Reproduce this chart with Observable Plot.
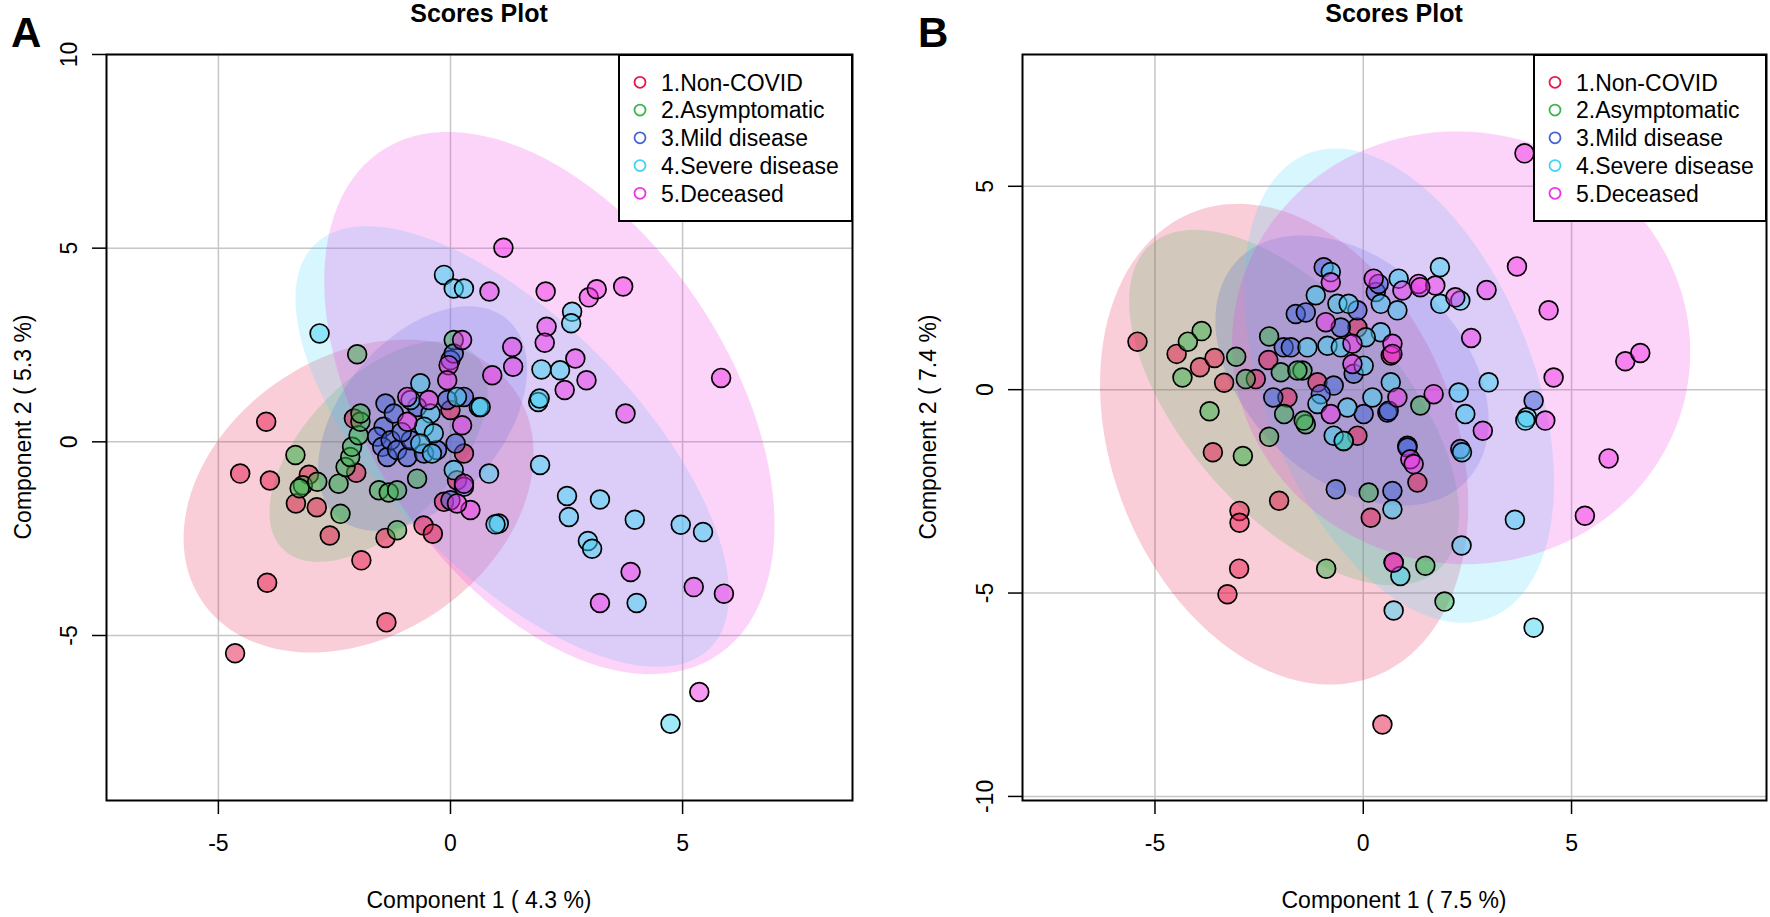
<!DOCTYPE html>
<html><head><meta charset="utf-8">
<script src="https://cdn.jsdelivr.net/npm/d3@7"></script>
<script src="https://cdn.jsdelivr.net/npm/@observablehq/plot@0.6"></script>
<style>
body{margin:0;background:#fff;font-family:"Liberation Sans",Arial,sans-serif;}
#wrap{position:relative;width:1770px;height:917px;overflow:hidden;background:#fff;}
.panel{position:absolute;top:0;}
#overlay{position:absolute;left:0;top:0;}
</style></head>
<body><div id="wrap"><div id="pa" class="panel" style="left:0"></div><div id="pb" class="panel" style="left:900px"></div></div>
<script>
// ---------- data ----------
const groups = ["1.Non-COVID","2.Asymptomatic","3.Mild disease","4.Severe disease","5.Deceased"];
const groupColors = ["#e6194B","#3cb44b","#4363d8","#42d4f4","#f032e6"];
const xTicks = [-5, 0, 5];
const yTicksA = [-5, 0, 5, 10];
const yTicksB = [-10, -5, 0, 5];
const xLabelA = "Component 1 ( 4.3 %)", yLabelA = "Component 2 ( 5.3 %)";
const xLabelB = "Component 1 ( 7.5 %)", yLabelB = "Component 2 ( 7.4 %)";
const plotTitle = "Scores Plot";

// Panel A scores
const aNonCovid = [[-4.64,-5.46],[-4.53,-0.82],[-3.97,0.52],[-3.89,-1.0],[-3.95,-3.64],[-3.33,-1.59],[-2.88,-1.69],[-3.05,-0.85],[-2.60,-2.42],[-2.03,-0.80],[-2.08,0.60],[-1.92,-3.06],[-1.40,-2.48],[-1.38,-4.66],[-0.58,-2.16],[-0.38,-2.37],[-0.14,-1.55],[0.0,0.82],[0.29,-0.30],[0.14,-0.99]];
const aAsymptomatic = [[-3.34,-0.34],[-3.18,-1.12],[-3.25,-1.2],[-2.87,-1.03],[-2.37,-1.86],[-2.41,-1.08],[-2.26,-0.65],[-2.16,-0.39],[-2.12,-0.13],[-1.98,0.17],[-1.94,0.52],[-1.94,0.73],[-2.01,2.26],[-1.54,-1.25],[-1.33,-1.31],[-1.15,-1.25],[-1.15,-2.28],[-0.72,-0.95],[0.07,2.63]];
const aMild = [[-1.40,0.99],[-1.44,0.39],[-1.58,0.13],[-1.47,-0.13],[-1.36,-0.39],[-1.29,0.04],[-1.15,-0.21],[-0.93,-0.39],[-0.57,-0.30],[0.0,2.11],[0.07,2.28],[0.11,-0.04],[0.29,1.16],[-0.72,0.90],[-0.07,1.08],[-1.22,0.73],[-0.86,0.04],[-0.29,-0.21],[0.29,-1.16],[0.0,-1.51],[-1.05,0.25]];
const aSevere = [[-0.14,4.31],[0.07,3.96],[0.29,3.96],[-2.82,2.80],[2.62,3.36],[2.60,3.06],[1.96,1.87],[2.36,1.85],[1.89,1.03],[1.92,1.12],[0.61,0.90],[1.93,-0.60],[0.83,-0.82],[2.51,-1.40],[2.55,-1.94],[3.22,-1.49],[3.97,-2.01],[4.96,-2.14],[5.44,-2.33],[2.96,-2.56],[3.05,-2.76],[1.04,-2.11],[0.97,-2.13],[4.01,-4.16],[4.74,-7.28],[-0.65,1.51],[-0.43,0.73],[-0.57,0.39],[-0.36,0.22],[-0.65,-0.04],[-0.40,-0.30],[0.14,1.16],[0.65,0.90],[0.07,-0.73],[-0.86,1.08]];
const aDeceased = [[1.14,5.01],[0.84,3.88],[2.05,3.88],[2.98,3.73],[3.15,3.94],[3.72,4.01],[2.07,2.97],[2.03,2.56],[1.33,2.45],[1.35,1.94],[0.90,1.72],[2.69,2.15],[2.93,1.59],[2.46,1.34],[5.83,1.65],[3.77,0.73],[3.88,-3.36],[3.22,-4.16],[5.24,-3.75],[5.89,-3.92],[5.36,-6.46],[0.43,-1.76],[-0.93,1.16],[-0.47,1.08],[-0.93,0.52],[-0.04,1.98],[-0.07,1.59],[0.25,2.63],[0.25,0.43],[0.29,-1.08],[0.14,-1.59]];

// Panel B scores
const bNonCovid = [[-5.42,1.18],[-4.48,0.88],[-3.92,0.55],[-3.57,0.78],[-3.34,0.17],[-2.58,0.26],[-2.28,0.73],[-3.61,-1.54],[-2.02,-2.73],[-2.97,-2.98],[-2.97,-3.27],[-2.98,-4.40],[-3.26,-5.03],[0.18,-3.15],[0.46,-8.23],[-0.14,1.53],[0.66,0.84],[-1.82,-0.19],[-1.10,0.18],[-0.14,-1.13],[1.30,-2.28],[0.73,-4.25]];
const bAsymptomatic = [[-3.88,1.44],[-4.21,1.18],[-4.34,0.30],[-3.05,0.81],[-2.82,0.26],[-3.69,-0.53],[-2.26,1.31],[-1.98,0.43],[-1.46,0.47],[-2.89,-1.63],[-2.26,-1.16],[-0.89,-4.40],[0.13,-2.53],[-1.38,-0.85],[-1.58,0.47],[-1.90,-0.60],[-1.43,-0.76],[1.37,-0.39],[-0.47,-1.26],[1.49,-4.33],[1.95,-5.21]];
const bMild = [[-0.95,3.01],[-1.62,1.86],[-1.38,1.90],[-1.91,1.04],[-1.74,1.04],[-2.16,-0.19],[-0.71,0.10],[0.58,-0.56],[0.01,-0.60],[1.06,-1.38],[-0.66,-2.45],[-0.14,1.95],[-0.54,1.53],[-0.23,0.39],[-1.02,-0.11],[0.30,2.40],[0.70,-2.49],[4.09,-0.27],[0.37,2.60],[0.61,-0.52],[2.33,-1.46],[1.06,-1.42]];
const bSevere = [[1.84,3.01],[0.85,2.73],[1.85,2.11],[2.33,2.19],[-1.14,2.32],[-0.78,2.89],[-0.62,2.11],[-0.35,2.11],[0.42,2.11],[0.82,1.95],[0.42,1.41],[0.06,1.29],[-0.86,1.08],[-0.54,1.04],[-1.34,1.04],[0.66,0.18],[0.22,-0.19],[-0.38,-0.44],[-1.10,-0.35],[0.01,0.59],[2.29,-0.07],[3.01,0.18],[2.45,-0.60],[2.37,-1.54],[-0.71,-1.13],[-0.47,-1.26],[3.93,-0.68],[0.70,-2.94],[2.36,-3.83],[3.64,-3.20],[0.73,-5.43],[4.09,-5.85],[0.89,-4.58],[3.89,-0.76]];
const bDeceased = [[3.87,5.81],[3.69,3.03],[4.45,1.95],[2.96,2.45],[2.59,1.27],[6.29,0.70],[6.65,0.90],[4.57,0.30],[1.69,-0.11],[0.82,-0.19],[0.70,1.13],[4.37,-0.76],[2.87,-1.01],[1.33,2.60],[1.73,2.56],[2.21,2.27],[5.89,-1.69],[5.32,-3.10],[1.13,-1.71],[1.21,-1.83],[-0.78,2.64],[0.25,2.73],[0.94,2.44],[1.37,2.52],[-0.90,1.66],[-0.26,1.13],[0.70,0.88],[-0.26,0.63],[-0.78,-0.60],[0.73,-4.25]];

// 95% confidence ellipses per group: [centre x, centre y, half-extent x, half-extent y, correlation]
const aEllipses = [[-1.98,-1.40,3.77,4.04,0.27],[-1.55,-0.25,2.35,2.85,0.55],[-0.6,0.6,2.25,2.9,0.44],[1.33,-0.12,4.67,5.69,-0.67],[2.13,1.0,4.85,7.0,-0.45]];
const bEllipses = [[-1.9,-1.34,4.42,5.91,-0.25],[-1.66,-0.44,3.96,4.37,-0.60],[-0.27,0.47,3.28,3.32,-0.37],[0.86,0.10,3.72,5.83,-0.41],[2.35,1.03,5.5,5.32,-0.02]];

const aDomainX = [-7.41, 8.66], aDomainY = [-9.26, 10];
const bDomainX = [-8.18, 9.68], bDomainY = [-10.1, 8.24];

// ---------- helpers ----------
function ellipsePoints([cx, cy, sx, sy, r]) {
  const d = Math.acos(r);
  return d3.range(0, 121).map(i => {
    const t = 2 * Math.PI * i / 120;
    return {x: cx + sx * Math.cos(t + d / 2), y: cy + sy * Math.cos(t - d / 2)};
  });
}
const toRows = pts => pts.map(([x, y]) => ({x, y}));

function panel({width, marginLeft, marginRight, xDomain, yDomain, yTicks, series, ellipses}) {
  const marks = [
    Plot.gridX(xTicks, {stroke: "#c6c6c6", strokeOpacity: 1, strokeWidth: 1.5}),
    Plot.gridY(yTicks, {stroke: "#c6c6c6", strokeOpacity: 1, strokeWidth: 1.5}),
    ...ellipses.map((e, i) => Plot.line(ellipsePoints(e), {x: "x", y: "y", fill: groupColors[i], fillOpacity: 0.21, stroke: "none", curve: "linear-closed", clip: true})),
    ...series.map((s, i) => Plot.dot(toRows(s), {x: "x", y: "y", r: 9.4, fill: groupColors[i], fillOpacity: 0.5, stroke: "black", strokeWidth: 1.7, clip: true})),
    Plot.frame({stroke: "black", strokeWidth: 2}),
    Plot.axisX(xTicks, {tickSize: 14, tickPadding: 20, fontSize: 23, strokeWidth: 1.5, tickFormat: d => String(d), label: null}),
    Plot.axisY(yTicks, {tickSize: 14, tickPadding: 16, tickRotate: -90, fontSize: 23, strokeWidth: 1.5, tickFormat: d => String(d), label: null})
  ];
  return Plot.plot({
    width, height: 917, marginLeft, marginRight, marginTop: 54, marginBottom: 117,
    x: {domain: xDomain, label: null},
    y: {domain: yDomain, label: null},
    style: {fontFamily: "'Liberation Sans', Arial, sans-serif", fontSize: "23px", color: "black", background: "transparent", overflow: "visible"},
    marks
  });
}

document.getElementById("pa").appendChild(panel({
  width: 900, marginLeft: 106, marginRight: 48, xDomain: aDomainX, yDomain: aDomainY, yTicks: yTicksA,
  series: [aNonCovid, aAsymptomatic, aMild, aSevere, aDeceased], ellipses: aEllipses
}));
document.getElementById("pb").appendChild(panel({
  width: 870, marginLeft: 122, marginRight: 4, xDomain: bDomainX, yDomain: bDomainY, yTicks: yTicksB,
  series: [bNonCovid, bAsymptomatic, bMild, bSevere, bDeceased], ellipses: bEllipses
}));

// ---------- titles, axis titles, legends ----------
const NS = "http://www.w3.org/2000/svg";
const ov = document.createElementNS(NS, "svg");
ov.setAttribute("id", "overlay"); ov.setAttribute("width", 1770); ov.setAttribute("height", 917);
ov.style.fontFamily = "'Liberation Sans', Arial, sans-serif";
document.getElementById("wrap").appendChild(ov);
function el(tag, attrs, text) {
  const e = document.createElementNS(NS, tag);
  for (const k in attrs) e.setAttribute(k, attrs[k]);
  if (text != null) e.textContent = text;
  ov.appendChild(e); return e;
}
const panels = [
  {letter: "A", letterX: 11, left: 106, right: 852, yTitleX: 31, xLabel: xLabelA, yLabel: yLabelA, legendX: 619},
  {letter: "B", letterX: 918, left: 1022, right: 1766, yTitleX: 936, xLabel: xLabelB, yLabel: yLabelB, legendX: 1534}
];
for (const p of panels) {
  const cx = (p.left + p.right) / 2;
  el("text", {x: p.letterX, y: 47, "font-size": 42, "font-weight": "bold"}, p.letter);
  el("text", {x: cx, y: 22, "font-size": 25, "font-weight": "bold", "text-anchor": "middle"}, plotTitle);
  el("text", {x: cx, y: 908, "font-size": 23, "text-anchor": "middle"}, p.xLabel);
  el("text", {transform: `translate(${p.yTitleX},427) rotate(-90)`, "font-size": 23, "text-anchor": "middle"}, p.yLabel);
  el("rect", {x: p.legendX, y: 55, width: p.right - p.legendX, height: 166, fill: "white", stroke: "black", "stroke-width": 2});
  groups.forEach((g, i) => {
    const cy = 82.3 + i * 27.75;
    el("circle", {cx: p.legendX + 21, cy, r: 5.5, fill: "none", stroke: groupColors[i], "stroke-width": 1.8});
    el("text", {x: p.legendX + 42, y: cy + 8.2, "font-size": 23}, g);
  });
}
</script></body></html>
